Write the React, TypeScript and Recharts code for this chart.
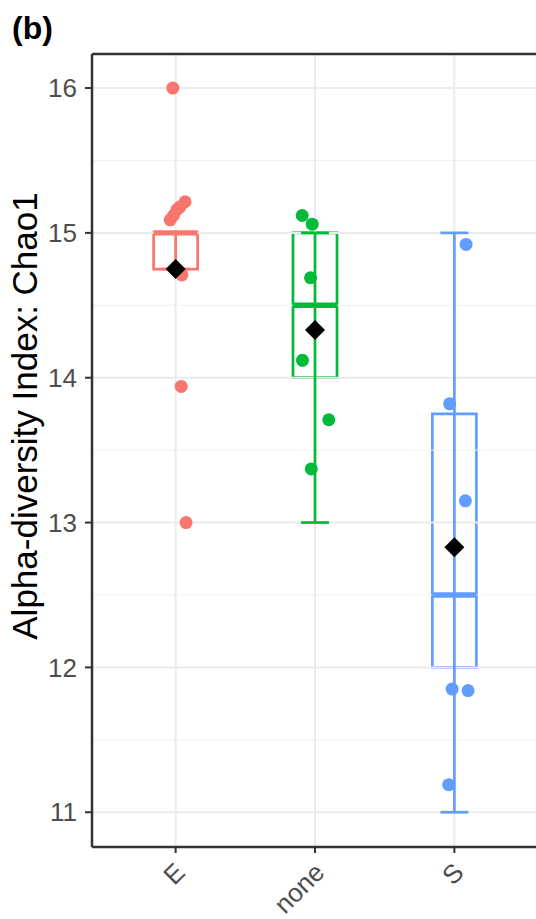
import React from 'react';
import { ComposedChart, Scatter, XAxis, YAxis, ReferenceLine, ReferenceArea } from 'recharts';

const groups = ['E', 'none', 'S'];
const colors = ['#F8766D', '#00BA38', '#619CFF'];
const yTicks = [11, 12, 13, 14, 15, 16];
const yMinor = [11.5, 12.5, 13.5, 14.5, 15.5];

const ePoints = [
  { x: 0.98, y: 16.0 },
  { x: 1.068, y: 15.215 },
  { x: 1.032, y: 15.18 },
  { x: 1.009, y: 15.16 },
  { x: 0.984, y: 15.12 },
  { x: 0.961, y: 15.09 },
  { x: 1.045, y: 14.71 },
  { x: 1.04, y: 13.94 },
  { x: 1.075, y: 13.0 },
];
const nonePoints = [
  { x: 1.908, y: 15.12 },
  { x: 1.98, y: 15.06 },
  { x: 1.968, y: 14.69 },
  { x: 1.91, y: 14.12 },
  { x: 2.099, y: 13.71 },
  { x: 1.973, y: 13.37 },
];
const sPoints = [
  { x: 3.084, y: 14.92 },
  { x: 2.966, y: 13.82 },
  { x: 3.079, y: 13.15 },
  { x: 2.984, y: 11.85 },
  { x: 3.098, y: 11.84 },
  { x: 2.959, y: 11.19 },
];
const pointSets = [ePoints, nonePoints, sPoints];

const q1 = [14.75, 14.0, 12.0];
const medians = [15.0, 14.5, 12.5];
const q3 = [15.0, 15.0, 13.75];
const whiskerLow = [14.75, 13.0, 11.0];
const whiskerHigh = [15.0, 15.0, 15.0];
const means = [14.75, 14.33, 12.83];

const meanData = means.map((m, i) => ({ x: i + 1, y: m }));

const Y_MIN = 10.76;
const Y_MAX = 16.235;
const BOX_HALF = 0.158;
const CAP_HALF = 0.1;
const FONT = '"Liberation Sans", Arial, sans-serif';

const XTick = (props: any) => {
  const { x, y, payload } = props;
  const px = x + 11;
  const py = y + 19;
  return (
    <text
      x={px}
      y={py}
      transform={`rotate(-45, ${px}, ${py})`}
      textAnchor="end"
      fontSize={26}
      fill="#4D4D4D"
      fontFamily={FONT}
    >
      {groups[payload.value - 1]}
    </text>
  );
};

const Diamond = (props: any) => {
  const { cx, cy } = props;
  const r = 10;
  return <path d={`M${cx},${cy - r}L${cx + r},${cy}L${cx},${cy + r}L${cx - r},${cy}Z`} fill="#000" />;
};

const makeDot = (color: string) => (props: any) => {
  const { cx, cy } = props;
  return <circle cx={cx} cy={cy} r={6.5} fill={color} />;
};

export default function App() {
  return (
    <div style={{ position: 'absolute', left: 0, top: 0, width: 536, height: 919, overflow: 'hidden', background: '#fff', fontFamily: FONT }}>
      <ComposedChart width={540} height={919} margin={{ top: 54, right: 2, bottom: 0, left: 0 }}>
        <XAxis
          dataKey="x"
          type="number"
          domain={[0.4, 3.6]}
          ticks={[1, 2, 3]}
          allowDataOverflow
          height={72}
          tick={<XTick />}
          tickSize={6}
          tickLine={{ stroke: '#333', strokeWidth: 2 }}
          axisLine={{ stroke: '#333', strokeWidth: 2.5 }}
        />
        <YAxis
          type="number"
          domain={[Y_MIN, Y_MAX]}
          ticks={yTicks}
          allowDataOverflow
          width={92}
          tickSize={7}
          tickMargin={8}
          tick={{ fontSize: 26, fill: '#4D4D4D', fontFamily: FONT }}
          tickLine={{ stroke: '#333', strokeWidth: 2 }}
          axisLine={{ stroke: '#333', strokeWidth: 2.5 }}
        />
        {yMinor.map((v) => (
          <ReferenceLine key={'mi' + v} y={v} stroke="#F0F0F0" strokeWidth={1} />
        ))}
        {yTicks.map((v) => (
          <ReferenceLine key={'ma' + v} y={v} stroke="#EBEBEB" strokeWidth={2} />
        ))}
        {groups.map((g, i) => (
          <ReferenceLine key={'vx' + g} x={i + 1} stroke="#EBEBEB" strokeWidth={2} />
        ))}
        <ReferenceLine y={Y_MAX} stroke="#333" strokeWidth={2.5} />
        {groups.map((g, i) => (
          <ReferenceLine
            key={'wl' + g}
            segment={[{ x: i + 1, y: whiskerLow[i] }, { x: i + 1, y: whiskerHigh[i] }]}
            stroke={colors[i]}
            strokeWidth={2.7}
          />
        ))}
        {groups.map((g, i) => (
          <ReferenceLine
            key={'cl' + g}
            segment={[{ x: i + 1 - CAP_HALF, y: whiskerLow[i] }, { x: i + 1 + CAP_HALF, y: whiskerLow[i] }]}
            stroke={colors[i]}
            strokeWidth={2.7}
          />
        ))}
        {groups.map((g, i) => (
          <ReferenceLine
            key={'ch' + g}
            segment={[{ x: i + 1 - CAP_HALF, y: whiskerHigh[i] }, { x: i + 1 + CAP_HALF, y: whiskerHigh[i] }]}
            stroke={colors[i]}
            strokeWidth={2.7}
          />
        ))}
        {groups.map((g, i) => (
          <ReferenceArea
            key={'bx' + g}
            x1={i + 1 - BOX_HALF}
            x2={i + 1 + BOX_HALF}
            y1={q1[i]}
            y2={q3[i]}
            fill="#ffffff"
            fillOpacity={0.8}
            stroke={colors[i]}
            strokeWidth={2.7}
          />
        ))}
        {groups.map((g, i) => (
          <ReferenceLine
            key={'md' + g}
            segment={[{ x: i + 1 - BOX_HALF, y: medians[i] }, { x: i + 1 + BOX_HALF, y: medians[i] }]}
            stroke={colors[i]}
            strokeWidth={5.4}
          />
        ))}
        {groups.map((g, i) => (
          <Scatter
            key={'pt' + g}
            data={pointSets[i]}
            dataKey="y"
            shape={makeDot(colors[i])}
            isAnimationActive={false}
          />
        ))}
        <Scatter data={meanData} dataKey="y" shape={<Diamond />} isAnimationActive={false} />
      </ComposedChart>
      <svg width={536} height={919} style={{ position: 'absolute', left: 0, top: 0, pointerEvents: 'none' }}>
        <text x={12} y={39} fontSize={32} fontWeight="bold" fill="#000" fontFamily={FONT}>
          (b)
        </text>
        <text
          x={37}
          y={416}
          transform="rotate(-90, 37, 416)"
          textAnchor="middle"
          fontSize={35}
          fill="#000"
          fontFamily={FONT}
        >
          Alpha-diversity Index: Chao1
        </text>
      </svg>
    </div>
  );
}
